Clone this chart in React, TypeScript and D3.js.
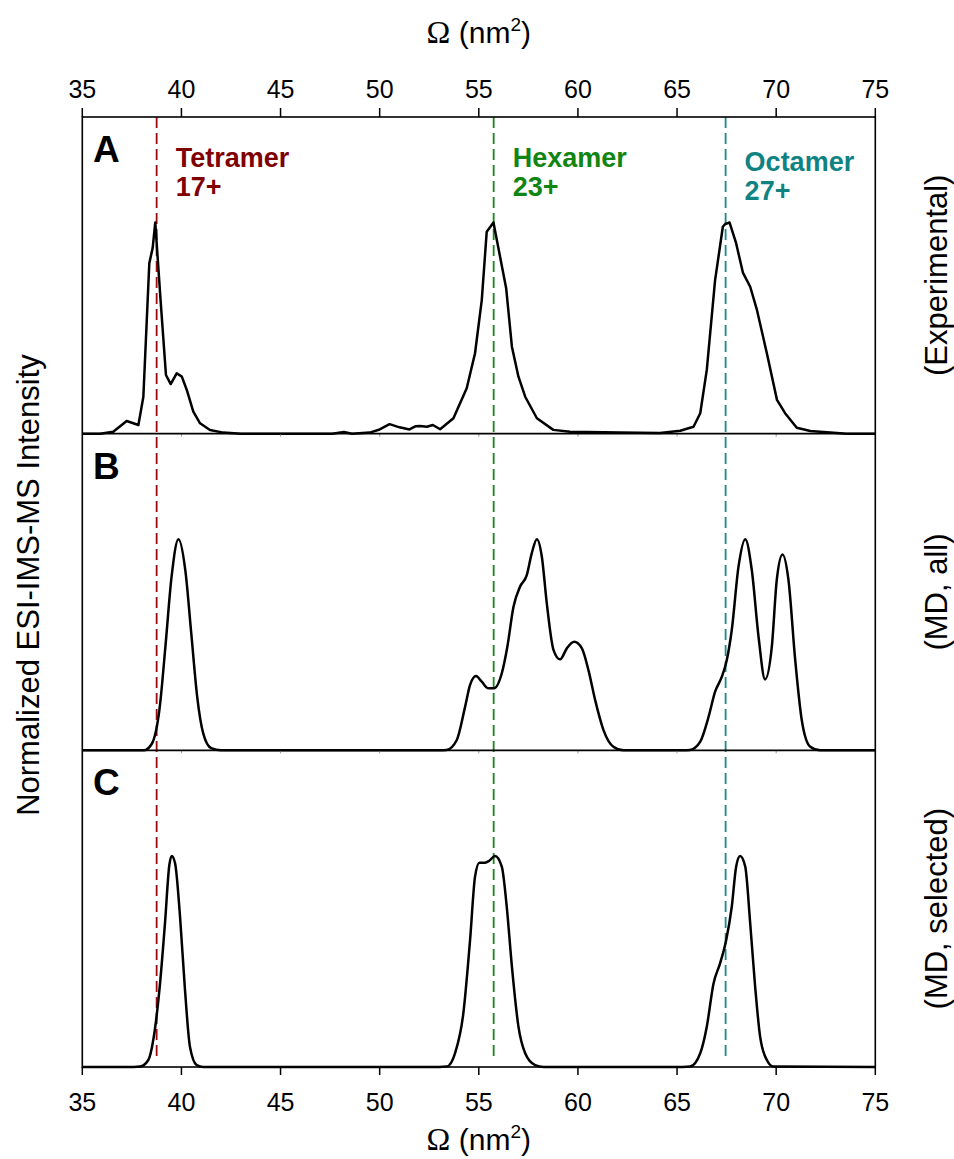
import React from "react";
import * as d3 from "d3";

// ion mobility CCS distributions, experimental vs MD
const xTicks = [35, 40, 45, 50, 55, 60, 65, 70, 75];
const refOmega = [38.75, 55.75, 67.45];
const refColors = ["#9a0c0c", "#1c861c", "#1a8a8a"];
const species = ["Tetramer", "Hexamer", "Octamer"];
const charges = ["17+", "23+", "27+"];
const labelColors = ["#800000", "#118511", "#0f8282"];
const panelLetters = ["A", "B", "C"];
const panelNames = ["(Experimental)", "(MD, all)", "(MD, selected)"];

// panel A, experimental (normalized)
const expOmega = [35, 35.9, 36.56, 37.24, 37.83, 38.08, 38.38, 38.55, 38.68, 38.95, 39.22, 39.46, 39.76, 40.02, 40.27, 40.6, 40.94, 41.44, 42.11, 43, 47.6, 48.2, 48.6, 49.5, 50.0, 50.5, 51.0, 51.5, 51.8, 52.04, 52.38, 52.68, 53.05, 53.72, 54.39, 54.81, 55.15, 55.4, 55.74, 56.38, 56.67, 57.0, 57.34, 57.93, 58.76, 59.6, 62.13, 64.14, 65.16, 65.83, 66.17, 66.5, 66.92, 67.31, 67.43, 67.65, 67.98, 68.32, 68.69, 69.03, 69.53, 70.04, 70.45, 71.04, 71.72, 72.56, 73.56, 75];
const expInt = [0, 0, 0.009, 0.06, 0.041, 0.175, 0.807, 0.88, 1.0, 0.63, 0.278, 0.235, 0.286, 0.27, 0.207, 0.104, 0.049, 0.017, 0.005, 0, 0, 0.008, 0, 0.005, 0.02, 0.045, 0.03, 0.02, 0.035, 0.036, 0.033, 0.041, 0.021, 0.073, 0.215, 0.381, 0.633, 0.957, 1.0, 0.689, 0.412, 0.27, 0.175, 0.073, 0.018, 0.009, 0.005, 0.003, 0.014, 0.033, 0.097, 0.302, 0.728, 0.98, 0.993, 1.0, 0.902, 0.763, 0.696, 0.586, 0.381, 0.16, 0.097, 0.028, 0.013, 0.007, 0, 0];

// panel B, MD all structures
const allOmega = [35, 38.1, 38.5, 38.9, 39.2, 39.5, 39.85, 40.2, 40.5, 40.8, 41.1, 41.5, 42, 53.0, 53.38, 53.89, 54.31, 54.56, 54.86, 55.15, 55.48, 55.77, 56.16, 56.44, 56.75, 57.08, 57.42, 57.67, 57.93, 58.18, 58.43, 58.77, 59.1, 59.44, 59.81, 60.2, 60.53, 60.87, 61.29, 61.79, 62.3, 65.3, 65.66, 66.17, 66.59, 66.92, 67.26, 67.51, 67.76, 68.1, 68.44, 68.77, 69.11, 69.44, 69.78, 70.03, 70.32, 70.62, 70.96, 71.29, 71.72, 72.22, 75];
const allInt = [0, 0, 0.03, 0.2, 0.5, 0.82, 1.0, 0.85, 0.55, 0.25, 0.08, 0.01, 0, 0, 0.002, 0.049, 0.207, 0.31, 0.352, 0.325, 0.294, 0.294, 0.365, 0.491, 0.68, 0.775, 0.83, 0.933, 1.0, 0.917, 0.696, 0.475, 0.431, 0.483, 0.514, 0.483, 0.38, 0.238, 0.096, 0.017, 0, 0, 0.002, 0.041, 0.159, 0.278, 0.349, 0.428, 0.57, 0.87, 1.0, 0.854, 0.538, 0.336, 0.491, 0.807, 0.928, 0.807, 0.428, 0.144, 0.017, 0, 0];

// panel C, MD selected structures
const selOmega = [35, 37.6, 37.91, 38.33, 38.58, 38.89, 39.17, 39.39, 39.51, 39.68, 39.93, 40.18, 40.43, 40.77, 41.1, 53.0, 53.38, 53.8, 54.22, 54.56, 54.81, 55.03, 55.32, 55.53, 55.82, 56.16, 56.41, 56.67, 57.0, 57.34, 57.84, 58.26, 65.3, 65.66, 66.17, 66.5, 66.84, 67.17, 67.48, 67.76, 67.98, 68.18, 68.44, 68.69, 68.94, 69.19, 69.53, 69.86, 75];
const selInt = [0, 0, 0.002, 0.033, 0.128, 0.365, 0.68, 0.957, 1.0, 0.965, 0.712, 0.365, 0.096, 0.009, 0, 0, 0.002, 0.065, 0.254, 0.602, 0.902, 0.968, 0.968, 0.977, 1.0, 0.949, 0.759, 0.475, 0.191, 0.065, 0.009, 0, 0, 0.002, 0.065, 0.191, 0.396, 0.491, 0.602, 0.759, 0.949, 1.0, 0.949, 0.68, 0.38, 0.144, 0.033, 0.002, 0];

const W = 954;
const H = 1159;
const mL = 82.3, mR = 875.3, mT = 117, mB = 1067;
const font = "'Liberation Sans', Arial, sans-serif";
const serif = "'Liberation Serif', 'Times New Roman', serif";

const AxisTitle = ({ y }: { y: number }) => (
  <text x={(mL + mR) / 2} y={y} textAnchor="middle" fontSize={30}>
    <tspan fontFamily={serif} fontSize={32}>Ω</tspan> (nm<tspan dy={-12} fontSize={19}>2</tspan><tspan dy={12}>)</tspan>
  </text>
);

const App = () => {
  const x = d3.scaleLinear().domain([35, 75]).range([mL, mR]);
  const panelH = (mB - mT) / 3;
  const panels = [
    { xs: expOmega, ys: expInt, curve: d3.curveLinear },
    { xs: allOmega, ys: allInt, curve: d3.curveMonotoneX },
    { xs: selOmega, ys: selInt, curve: d3.curveMonotoneX },
  ];

  return (
    <svg width={W} height={H} style={{ position: "absolute", left: 0, top: 0 }} fontFamily={font}>
      <rect width={W} height={H} fill="#fff" />

      {/* reference dashed lines */}
      {refOmega.map((o, i) => (
        <line key={"ref" + i} x1={x(o)} x2={x(o)} y1={mT} y2={mB - 6}
          stroke={refColors[i]} strokeWidth={1.8} strokeDasharray="11,5" />
      ))}

      {panels.map((p, k) => {
        const y0 = mT + k * panelH;
        const y = d3.scaleLinear().domain([0, 1.5]).range([y0 + panelH, y0]);
        const line = d3.line<number>()
          .x((d, i) => x(p.xs[i]))
          .y(d => y(d))
          .curve(p.curve);
        return (
          <g key={"p" + k}>
            <path d={line(p.ys) || ""} fill="none" stroke="#000" strokeWidth={2.5} strokeLinejoin="round" />
            <text x={93} y={y0 + 45} fontSize={37} fontWeight="bold">{panelLetters[k]}</text>
            <text transform={`translate(${947},${y0 + panelH / 2}) rotate(-90)`} textAnchor="middle" fontSize={31}>
              {panelNames[k]}
            </text>
            {k < 2 && xTicks.slice(1, -1).map(t => (
              <line key={t} x1={x(t)} x2={x(t)} y1={y0 + panelH} y2={y0 + panelH + 3} stroke="#999" strokeWidth={1} />
            ))}
          </g>
        );
      })}

      {/* frame and dividers */}
      <rect x={mL} y={mT} width={mR - mL} height={mB - mT} fill="none" stroke="#000" strokeWidth={1.6} />
      {[1, 2].map(k => (
        <line key={"div" + k} x1={mL} x2={mR} y1={mT + k * panelH} y2={mT + k * panelH} stroke="#000" strokeWidth={1.6} />
      ))}

      {/* species labels */}
      {species.map((s, i) => (
        <g key={s} fill={labelColors[i]} fontWeight="bold" fontSize={27}>
          <text x={x(refOmega[i]) + 19} y={i === 2 ? 171 : 167}>{s}</text>
          <text x={x(refOmega[i]) + 19} y={i === 2 ? 200 : 196}>{charges[i]}</text>
        </g>
      ))}

      {/* top and bottom axes */}
      {xTicks.map(t => (
        <g key={"t" + t}>
          <line x1={x(t)} x2={x(t)} y1={mT} y2={mT - 9} stroke="#000" strokeWidth={1.5} />
          <text x={x(t)} y={mT - 19} textAnchor="middle" fontSize={25}>{t}</text>
          <line x1={x(t)} x2={x(t)} y1={mB} y2={mB + 8} stroke="#000" strokeWidth={1.5} />
          <text x={x(t)} y={mB + 44} textAnchor="middle" fontSize={25}>{t}</text>
        </g>
      ))}

      <AxisTitle y={43} />
      <AxisTitle y={1150} />

      <text transform={`translate(${39},${585}) rotate(-90)`} textAnchor="middle" fontSize={31}>
        Normalized ESI-IMS-MS Intensity
      </text>
    </svg>
  );
};

export default App;
